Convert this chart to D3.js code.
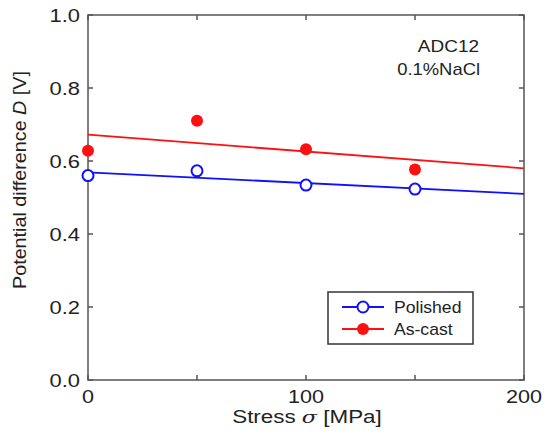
<!DOCTYPE html>
<html>
<head>
<meta charset="utf-8">
<script src="https://cdn.jsdelivr.net/npm/d3@7"></script>
<style>
  body { margin: 0; background: #fff; }
  svg text { font-family: Arial, "Liberation Sans", sans-serif; fill: #222; }
</style>
</head>
<body>
<div id="chart"></div>
<script>
// measured points
var stress = [0, 50, 100, 150];
var polished = [0.560, 0.573, 0.534, 0.523];
var asCast = [0.628, 0.710, 0.632, 0.577];

// linear fit lines (end points)
var fitX = [0, 200];
var fitPolished = [0.569, 0.510];
var fitAsCast = [0.672, 0.580];

var xTicks = [0, 50, 100, 150, 200];
var xLabels = [0, 100, 200];
var yTicks = [0, 0.2, 0.4, 0.6, 0.8, 1.0];

var width = 555, height = 435;
var margin = {left: 88, right: 31, top: 15, bottom: 55};

var svg = d3.select("#chart")
    .append("svg")
    .attr("width", width)
    .attr("height", height)

var x = d3.scaleLinear().domain([0, 200]).range([margin.left, width - margin.right]);
var y = d3.scaleLinear().domain([0, 1]).range([height - margin.bottom, margin.top]);

// text in the original is a bit wide, so stretch it horizontally
function label(px, py, size, sx, anchor){
    return svg.append("text")
        .attr("transform", "translate(" + px + "," + py + ") scale(" + sx + ",1)")
        .attr("text-anchor", anchor)
        .attr("font-size", size)
}

// frame
svg.append("rect")
    .attr("x", x(0)).attr("y", y(1))
    .attr("width", x(200) - x(0)).attr("height", y(0) - y(1))
    .attr("fill", "none").attr("stroke", "#555").attr("stroke-width", 1.5)

// ticks pointing inward, on all four sides
var tl = 5;
xTicks.forEach(function(t){
    svg.append("line").attr("x1", x(t)).attr("x2", x(t)).attr("y1", y(0)).attr("y2", y(0) - tl)
        .attr("stroke", "#555").attr("stroke-width", 1.5)
    svg.append("line").attr("x1", x(t)).attr("x2", x(t)).attr("y1", y(1)).attr("y2", y(1) + tl)
        .attr("stroke", "#555").attr("stroke-width", 1.5)
})
yTicks.forEach(function(t){
    svg.append("line").attr("x1", x(0)).attr("x2", x(0) + tl).attr("y1", y(t)).attr("y2", y(t))
        .attr("stroke", "#555").attr("stroke-width", 1.5)
    svg.append("line").attr("x1", x(200)).attr("x2", x(200) - tl).attr("y1", y(t)).attr("y2", y(t))
        .attr("stroke", "#555").attr("stroke-width", 1.5)
})

// tick labels
yTicks.forEach(function(t){
    label(x(0) - 8, y(t) + 6.5, 18, 1.22, "end").text(d3.format(".1f")(t))
})
xLabels.forEach(function(t){
    label(x(t), y(0) + 23, 18, 1.2, "middle").text(t)
})

// axis titles
var xt = label(307, 423, 17.5, 1.28, "middle")
xt.append("tspan").text("Stress ")
xt.append("tspan").attr("font-style", "italic").attr("font-family", "'DejaVu Serif', serif").text("σ")
xt.append("tspan").text(" [MPa]")

var yt = svg.append("text")
    .attr("transform", "translate(26,180) rotate(-90)")
    .attr("text-anchor", "middle")
    .attr("font-size", 17.5)
    .attr("textLength", 218)
    .attr("lengthAdjust", "spacingAndGlyphs")
yt.append("tspan").text("Potential difference ")
yt.append("tspan").attr("font-style", "italic").text("D")
yt.append("tspan").text(" [V]")

// fit lines
var line = d3.line().x(function(d){ return x(d[0]); }).y(function(d){ return y(d[1]); });
svg.append("path").datum(d3.zip(fitX, fitAsCast)).attr("d", line)
    .attr("fill", "none").attr("stroke", "#ff1010").attr("stroke-width", 1.8)
svg.append("path").datum(d3.zip(fitX, fitPolished)).attr("d", line)
    .attr("fill", "none").attr("stroke", "#1010ff").attr("stroke-width", 1.8)

// markers
svg.selectAll(".pol").data(d3.zip(stress, polished)).enter().append("circle")
    .attr("class", "pol")
    .attr("cx", function(d){ return x(d[0]); })
    .attr("cy", function(d){ return y(d[1]); })
    .attr("r", 5.5)
    .attr("fill", "#fff").attr("stroke", "#1010ff").attr("stroke-width", 2)

svg.selectAll(".cast").data(d3.zip(stress, asCast)).enter().append("circle")
    .attr("class", "cast")
    .attr("cx", function(d){ return x(d[0]); })
    .attr("cy", function(d){ return y(d[1]); })
    .attr("r", 6)
    .attr("fill", "#ff1010")

// annotation
label(479, 52, 16.5, 1.15, "end").text("ADC12")
label(480, 75, 16, 1.15, "end").text("0.1%NaCl")

// legend
var legend = svg.append("g").attr("transform", "translate(328,292)")
legend.append("rect").attr("width", 145).attr("height", 52)
    .attr("fill", "#fff").attr("stroke", "#333").attr("stroke-width", 1.5)
var items = [
    {name: "Polished", color: "#1010ff", open: true},
    {name: "As-cast", color: "#ff1010", open: false}
]
items.forEach(function(it, i){
    var ly = 15 + i * 22;
    legend.append("line").attr("x1", 14).attr("x2", 56).attr("y1", ly).attr("y2", ly)
        .attr("stroke", it.color).attr("stroke-width", 1.8)
    legend.append("circle").attr("cx", 35).attr("cy", ly).attr("r", it.open ? 5.5 : 6)
        .attr("fill", it.open ? "#fff" : it.color)
        .attr("stroke", it.open ? it.color : "none").attr("stroke-width", 2)
    legend.append("text")
        .attr("transform", "translate(66," + (ly + 6) + ") scale(1.1,1)")
        .attr("font-size", 16).text(it.name)
})
</script>
</body>
</html>
